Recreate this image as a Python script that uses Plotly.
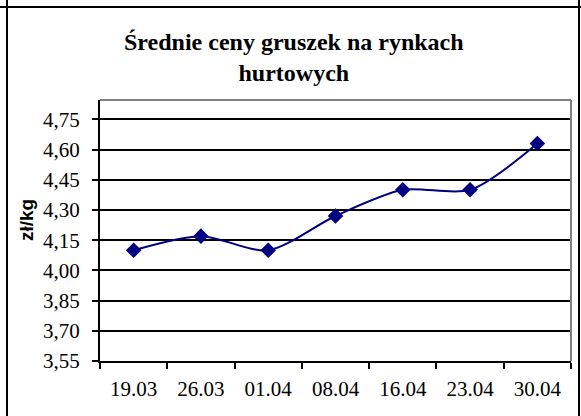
import plotly.graph_objects as go

categories = ["19.03", "26.03", "01.04", "08.04", "16.04", "23.04", "30.04"]
prices = [4.10, 4.17, 4.10, 4.27, 4.40, 4.40, 4.63]
title_text = "Średnie ceny gruszek na rynkach<br>hurtowych"
y_title = "zł/kg"

W, H = 581, 416
L, R, T, B = 100, 10, 100, 55
pw, ph = W - L - R, H - T - B

def px(x):
    return (x - L) / pw

def py(y):
    return (H - B - y) / ph

fig = go.Figure()
fig.add_trace(go.Scatter(
    x=categories, y=prices, mode="lines+markers",
    line=dict(color="#000080", width=2, shape="spline", smoothing=0.8),
    marker=dict(symbol="diamond", size=12, color="#000080"),
    showlegend=False, hoverinfo="skip",
))

serif = "Times New Roman"
fig.update_layout(
    width=W, height=H,
    margin=dict(l=L, r=R, t=T, b=B),
    paper_bgcolor="white", plot_bgcolor="white",
    separators=", ",
    xaxis=dict(
        type="category", tickson="boundaries", ticks="outside", ticklen=6,
        tickwidth=2, tickcolor="black", showline=True, linecolor="black",
        linewidth=2, showgrid=False, tickfont=dict(family=serif, size=21, color="black"),
        range=[-0.5, 6.5], fixedrange=True, ticklabelstandoff=8,
    ),
    yaxis=dict(
        range=[3.55, 4.846], tick0=3.55, dtick=0.15, tickformat=".2f",
        ticks="outside", ticklen=6, tickwidth=2, tickcolor="black",
        showline=True, linecolor="black", linewidth=2,
        showgrid=True, gridcolor="black", gridwidth=1.5, zeroline=False,
        tickfont=dict(family=serif, size=21, color="black"), ticklabelstandoff=8,
    ),
)

fig.add_shape(type="line", xref="paper", yref="paper", x0=0, x1=1, y0=1, y1=1,
              line=dict(color="#808080", width=2))
fig.add_shape(type="line", xref="paper", yref="paper", x0=1, x1=1, y0=0, y1=1,
              line=dict(color="#808080", width=2))
fig.add_shape(type="line", xref="paper", yref="paper", x0=px(0), x1=px(W), y0=py(7), y1=py(7),
              line=dict(color="black", width=2))
fig.add_shape(type="line", xref="paper", yref="paper", x0=px(7), x1=px(7), y0=py(0), y1=py(H),
              line=dict(color="black", width=2))
fig.add_shape(type="line", xref="paper", yref="paper", x0=px(579), x1=px(579), y0=py(0), y1=py(H),
              line=dict(color="black", width=2))

fig.add_annotation(text="<b>" + title_text + "</b>", xref="paper", yref="paper",
                   x=px(294), y=py(58), xanchor="center", yanchor="middle",
                   showarrow=False, font=dict(family=serif, size=24, color="black"))
fig.add_annotation(text="<b>" + y_title + "</b>", xref="paper", yref="paper",
                   x=px(26), y=py(220), xanchor="center", yanchor="middle", textangle=-90,
                   showarrow=False, font=dict(family="Arial", size=19, color="black"))

fig.write_html("out.html", config={"displayModeBar": False},
               post_script="document.body.style.margin='0';document.body.style.overflow='hidden';")
